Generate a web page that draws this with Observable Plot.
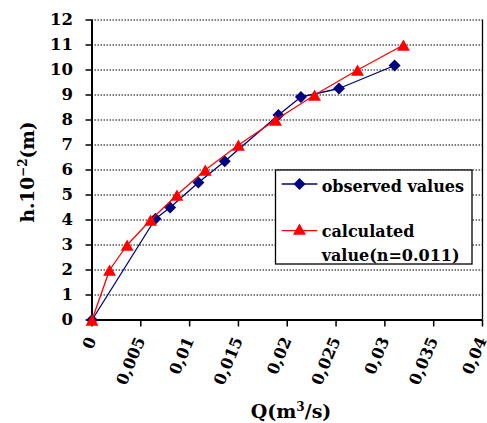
<!DOCTYPE html>
<html>
<head>
<meta charset="utf-8">
<script src="https://cdn.jsdelivr.net/npm/d3@7"></script>
<script src="https://cdn.jsdelivr.net/npm/@observablehq/plot@0.6"></script>
<style>
  html, body { margin: 0; padding: 0; background: #fff; }
  #chart { width: 487px; height: 423px; overflow: hidden; }
</style>
</head>
<body>
<div id="chart"></div>
<script>
// Observed values
const obsQ = [0, 0.0065, 0.0080, 0.0109, 0.0136, 0.0191, 0.0214, 0.0253, 0.0310];
const obsH = [0, 4.05, 4.5, 5.5, 6.35, 8.2, 8.92, 9.26, 10.18];
// Calculated values (n = 0.011)
const calcQ = [0, 0.0018, 0.0036, 0.0060, 0.0087, 0.0116, 0.0150, 0.0188, 0.0228, 0.0272, 0.0319];
const calcH = [0, 2, 3, 4, 5, 6, 7, 8, 9, 10, 11];
// Axis ticks
const xTicks = [0, 0.005, 0.01, 0.015, 0.02, 0.025, 0.03, 0.035, 0.04];
const xTickLabels = ["0", "0,005", "0,01", "0,015", "0,02", "0,025", "0,03", "0,035", "0,04"];
const yTicks = [0, 1, 2, 3, 4, 5, 6, 7, 8, 9, 10, 11, 12];
const gridTicks = yTicks.filter(d => d > 0);
const seriesNames = ["observed values", "calculated", "value(n=0.011)"];

const observed = obsQ.map((q, i) => ({q, h: obsH[i]}));
const calculated = calcQ.map((q, i) => ({q, h: calcH[i]}));

const font = "'DejaVu Serif', serif";

const chart = Plot.plot({
  width: 487,
  height: 423,
  marginLeft: 91.5,
  marginRight: 5,
  marginTop: 19.5,
  marginBottom: 103.5,
  x: {domain: [0, 0.04]},
  y: {domain: [0, 12]},
  style: {fontFamily: font, fontWeight: "bold", fontSize: "16px", color: "black", background: "white"},
  marks: [
    Plot.gridY(gridTicks, {stroke: "black", strokeOpacity: 1, strokeWidth: 1, strokeDasharray: "1.5,1.5"}),
    Plot.ruleX([0.04], {stroke: "black", strokeWidth: 1.3}),
    Plot.axisY(yTicks, {tickSize: 6, tickPadding: 13, strokeWidth: 1.5, fontSize: 16.5, label: null, tickFormat: d => String(d)}),
    Plot.axisX(xTicks, {tickSize: 7, tickPadding: 11, strokeWidth: 1.5, fontSize: 16, label: null, tickRotate: -67,
      tickFormat: d => xTickLabels[xTicks.indexOf(d)]}),
    Plot.ruleX([0], {stroke: "black", strokeWidth: 2}),
    Plot.ruleY([0], {stroke: "black", strokeWidth: 2}),
    Plot.line(observed, {x: "q", y: "h", stroke: "#000080", strokeWidth: 1.3}),
    Plot.dot(observed, {x: "q", y: "h", symbol: "diamond2", r: 5.4, fill: "#000080", stroke: "none"}),
    Plot.line(calculated, {x: "q", y: "h", stroke: "#ff0000", strokeWidth: 1.3}),
    Plot.dot(calculated, {x: "q", y: "h", symbol: "triangle", r: 4.8, fill: "#ff0000", stroke: "none", dy: 2})
  ]
});

document.getElementById("chart").appendChild(chart);

const svg = d3.select(chart);

// Axis titles
svg.append("text")
  .attr("transform", "translate(34,172) rotate(-90)")
  .attr("text-anchor", "middle")
  .style("font-family", font).style("font-weight", "bold").style("font-size", "18.5px")
  .call(t => {
    t.append("tspan").text("h.10");
    t.append("tspan").attr("dy", -7).style("font-size", "12px").text("−2");
    t.append("tspan").attr("dy", 7).text("(m)");
  });

svg.append("text")
  .attr("x", 291).attr("y", 418)
  .attr("text-anchor", "middle")
  .style("font-family", font).style("font-weight", "bold").style("font-size", "19px")
  .call(t => {
    t.append("tspan").text("Q(m");
    t.append("tspan").attr("dy", -7).style("font-size", "12px").text("3");
    t.append("tspan").attr("dy", 7).text("/s)");
  });

// Legend
const lg = svg.append("g");
lg.append("rect").attr("x", 275.5).attr("y", 170).attr("width", 196.5).attr("height", 94)
  .attr("fill", "white").attr("stroke", "black").attr("stroke-width", 1.3);
lg.append("line").attr("x1", 281.7).attr("x2", 317.3).attr("y1", 184).attr("y2", 184)
  .attr("stroke", "#000080").attr("stroke-width", 1.3);
lg.append("path").attr("d", d3.symbol(d3.symbolDiamond2, 92)()).attr("transform", "translate(299.5,184)").attr("fill", "#000080");
lg.append("line").attr("x1", 281.7).attr("x2", 317.3).attr("y1", 230.7).attr("y2", 230.7)
  .attr("stroke", "#ff0000").attr("stroke-width", 1.3);
lg.append("path").attr("d", d3.symbol(d3.symbolTriangle, 73)()).attr("transform", "translate(299.5,231)").attr("fill", "#ff0000");
const legText = [[seriesNames[0], 191.7], [seriesNames[1], 236.7], [seriesNames[2], 261]];
legText.forEach(([s, y]) => {
  lg.append("text").attr("x", 321.7).attr("y", y)
    .attr("text-anchor", "start")
    .style("font-family", font).style("font-weight", "bold").style("font-size", "16px")
    .text(s);
});
</script>
</body>
</html>
